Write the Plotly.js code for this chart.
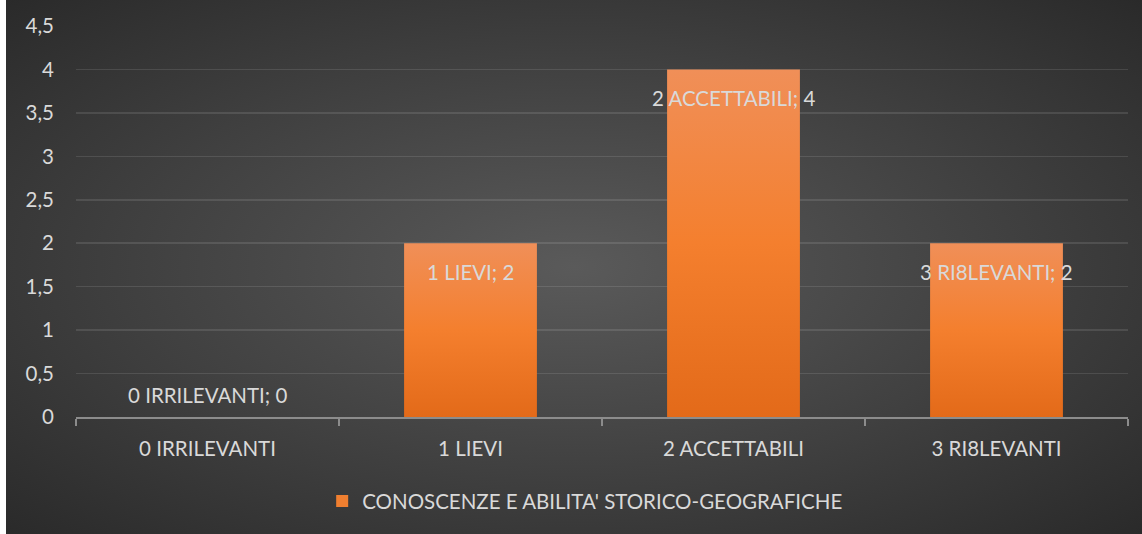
<!DOCTYPE html>
<html>
<head>
<meta charset="utf-8">
<script src="https://cdn.plot.ly/plotly-3.0.1.min.js"></script>
<style>
  html, body { margin: 0; padding: 0; background: #ffffff; width: 1142px; height: 534px; overflow: hidden; }
  #bg { position: absolute; left: 6px; top: 0; width: 1136px; height: 534px;
        background: radial-gradient(ellipse farthest-corner at 50% 50%, #5a5a5a 0%, #404040 55%, #2a2a2a 100%); }
  #chart { position: absolute; left: 0; top: 0; width: 1142px; height: 534px; }
</style>
</head>
<body>
<div id="bg"></div>
<div id="chart"></div>
<script>
const categories = ["0 IRRILEVANTI", "1 LIEVI", "2 ACCETTABILI", "3 RI8LEVANTI"];
const values = [0, 2, 4, 2];
const seriesName = "CONOSCENZE E ABILITA' STORICO-GEOGRAFICHE";
const yTickVals = [0, 0.5, 1, 1.5, 2, 2.5, 3, 3.5, 4, 4.5];
const yTickText = ["0", "0,5", "1", "1,5", "2", "2,5", "3", "3,5", "4", "4,5"];

const fontFam = "Lato, 'Noto Sans', sans-serif";
const txtCol = "#d9d9d9";
const fs = 20.5;

const annotations = categories.map((c, i) => ({
  x: c, y: values[i], xref: "x", yref: "y",
  text: c + "; " + values[i],
  showarrow: false,
  yanchor: "middle",
  yshift: values[i] > 0 ? -29 : 22,
  font: { family: fontFam, size: fs, color: txtCol }
}));

const trace = {
  type: "bar",
  x: categories,
  y: values,
  name: seriesName,
  marker: { color: "#f07f30" },
  hoverinfo: "none"
};

const layout = {
  width: 1142, height: 534,
  margin: { l: 76, r: 14, t: 26, b: 117 },
  paper_bgcolor: "rgba(0,0,0,0)",
  plot_bgcolor: "rgba(0,0,0,0)",
  bargap: 0.495,
  showlegend: true,
  legend: {
    orientation: "h", x: 0.484, xanchor: "center", y: -0.215, yanchor: "middle",
    yref: "paper",
    font: { family: fontFam, size: fs, color: txtCol },
    itemwidth: 30
  },
  xaxis: {
    type: "category",
    showgrid: false,
    showline: true, linecolor: "#8c8c8c", linewidth: 2,
    ticks: "outside", tickson: "boundaries", ticklen: 7, tickcolor: "#8c8c8c", tickwidth: 2,
    tickfont: { family: fontFam, size: fs, color: txtCol },
    ticklabelstandoff: 12,
    fixedrange: true
  },
  yaxis: {
    range: [0, 4.5],
    tickvals: yTickVals, ticktext: yTickText,
    showgrid: true, gridcolor: "rgba(255,255,255,0.11)", gridwidth: 1.5,
    zeroline: false, showline: false,
    tickfont: { family: fontFam, size: fs, color: txtCol },
    ticklabelstandoff: 21,
    fixedrange: true
  },
  annotations: annotations
};

Plotly.newPlot("chart", [trace], layout, { staticPlot: true, displayModeBar: false }).then(gd => {
  const svg = gd.querySelector(".main-svg");
  let defs = svg.querySelector("defs");
  const ns = "http://www.w3.org/2000/svg";
  const grad = document.createElementNS(ns, "linearGradient");
  grad.setAttribute("id", "barGrad");
  grad.setAttribute("x1", "0"); grad.setAttribute("y1", "0");
  grad.setAttribute("x2", "0"); grad.setAttribute("y2", "1");
  [["0%", "#f08f58"], ["50%", "#f47f2e"], ["100%", "#e36a19"]].forEach(([o, c]) => {
    const s = document.createElementNS(ns, "stop");
    s.setAttribute("offset", o); s.setAttribute("stop-color", c);
    grad.appendChild(s);
  });
  defs.appendChild(grad);
  gd.querySelectorAll(".barlayer .point path").forEach(p => { p.style.fill = "url(#barGrad)"; });
});
</script>
</body>
</html>
